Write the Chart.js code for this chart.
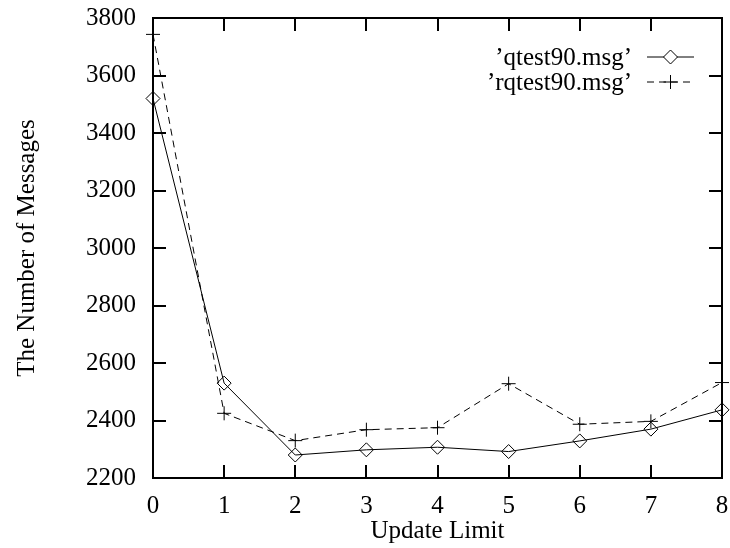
<!DOCTYPE html>
<html>
<head>
<meta charset="utf-8">
<script src="https://cdn.jsdelivr.net/npm/chart.js@4/dist/chart.umd.min.js"></script>
<style>
  html, body { margin: 0; padding: 0; background: #fff; }
  #msgChart { display: block; }
</style>
</head>
<body>
<canvas id="msgChart" width="730" height="548"></canvas>
<script>
// update limit values on the x axis
var updateLimit = [0, 1, 2, 3, 4, 5, 6, 7, 8];
// message counts per run
var qtest90 = [3520, 2530, 2280, 2298, 2307, 2292, 2329, 2370, 2437];
var rqtest90 = [3743, 2425, 2330, 2368, 2375, 2528, 2387, 2397, 2532];
var seriesNames = ['\u2019qtest90.msg\u2019', '\u2019rqtest90.msg\u2019'];

var FONT = '"Liberation Serif", "Times New Roman", serif';
var FSIZE = 25;

function toPoints(ys) {
  return updateLimit.map(function(x, i) { return { x: x, y: ys[i] }; });
}

// frame + inward ticks on all four sides, gnuplot style
var framePlugin = {
  id: 'frame',
  afterDraw: function(chart) {
    var ctx = chart.ctx, a = chart.chartArea;
    var xs = chart.scales.x, ys = chart.scales.y;
    var len = 13;
    ctx.save();
    ctx.strokeStyle = '#000';
    ctx.lineWidth = 2;
    ctx.beginPath();
    xs.ticks.forEach(function(t) {
      var px = Math.round(xs.getPixelForValue(t.value));
      ctx.moveTo(px, a.bottom); ctx.lineTo(px, a.bottom - len);
      ctx.moveTo(px, a.top); ctx.lineTo(px, a.top + len);
    });
    ys.ticks.forEach(function(t) {
      var py = Math.round(ys.getPixelForValue(t.value));
      ctx.moveTo(a.left, py); ctx.lineTo(a.left + len, py);
      ctx.moveTo(a.right, py); ctx.lineTo(a.right - len, py);
    });
    ctx.stroke();
    ctx.strokeRect(a.left, a.top, a.right - a.left, a.bottom - a.top);
    ctx.restore();
  }
};

// key in the top right corner: label text, then a line sample with its marker
var keyPlugin = {
  id: 'key',
  afterDraw: function(chart) {
    var ctx = chart.ctx, a = chart.chartArea;
    ctx.save();
    ctx.font = FSIZE + 'px ' + FONT;
    ctx.textAlign = 'right';
    ctx.textBaseline = 'middle';
    chart.data.datasets.forEach(function(ds, i) {
      var y = a.top + 39 + i * 25;
      var textRight = a.right - 90;
      var x0 = a.right - 75, x1 = a.right - 28;
      ctx.fillStyle = '#000';
      ctx.fillText(ds.label, textRight, y + 1);
      ctx.strokeStyle = '#000';
      ctx.lineWidth = 1;
      ctx.setLineDash(ds.borderDash || []);
      ctx.beginPath();
      ctx.moveTo(x0, y); ctx.lineTo(x1, y);
      ctx.stroke();
      ctx.setLineDash([]);
      ctx.fillStyle = '#fff';
      Chart.helpers.drawPoint(ctx, {
        pointStyle: ds.pointStyle,
        radius: ds.pointRadius,
        borderWidth: 1
      }, (x0 + x1) / 2, y);
    });
    ctx.restore();
  }
};

var ctx = document.getElementById('msgChart').getContext('2d');
var chart = new Chart(ctx, {
  type: 'line',
  data: {
    datasets: [{
      label: seriesNames[0],
      data: toPoints(qtest90),
      borderColor: '#000',
      borderWidth: 1,
      pointStyle: 'rectRot',
      pointRadius: 7,
      pointBorderWidth: 1,
      pointBorderColor: '#000',
      pointBackgroundColor: 'rgba(0,0,0,0)',
      tension: 0,
      clip: false
    }, {
      label: seriesNames[1],
      data: toPoints(rqtest90),
      borderColor: '#000',
      borderWidth: 1,
      borderDash: [7, 5],
      pointStyle: 'cross',
      pointRadius: 7,
      pointBorderWidth: 1,
      pointBorderColor: '#000',
      tension: 0,
      clip: false
    }]
  },
  options: {
    responsive: false,
    animation: false,
    devicePixelRatio: 1,
    layout: { padding: { left: 0, right: 7, top: 18, bottom: 0 } },
    plugins: {
      legend: { display: false },
      tooltip: { enabled: false }
    },
    scales: {
      x: {
        type: 'linear',
        min: 0,
        max: 8,
        grid: { display: false, drawTicks: false },
        border: { display: false },
        ticks: {
          stepSize: 1,
          padding: 13,
          color: '#000',
          font: { family: FONT, size: FSIZE }
        },
        title: {
          display: true,
          text: 'Update Limit',
          color: '#000',
          font: { family: FONT, size: FSIZE },
          padding: { top: 0, bottom: 2 }
        },
        afterFit: function(scale) {
          scale.height = 70;
          scale.paddingLeft = 0;
          scale.paddingRight = 0;
        }
      },
      y: {
        min: 2200,
        max: 3800,
        grid: { display: false, drawTicks: false },
        border: { display: false },
        ticks: {
          stepSize: 200,
          padding: 17,
          color: '#000',
          font: { family: FONT, size: FSIZE },
          callback: function(v) { return String(v); }
        },
        title: {
          display: true,
          text: 'The Number of Messages',
          color: '#000',
          font: { family: FONT, size: FSIZE },
          padding: { top: 12, bottom: 0 }
        },
        afterFit: function(scale) {
          scale.width = 153;
          scale.paddingTop = 0;
          scale.paddingBottom = 0;
        }
      }
    }
  },
  plugins: [framePlugin, keyPlugin]
});
</script>
</body>
</html>
